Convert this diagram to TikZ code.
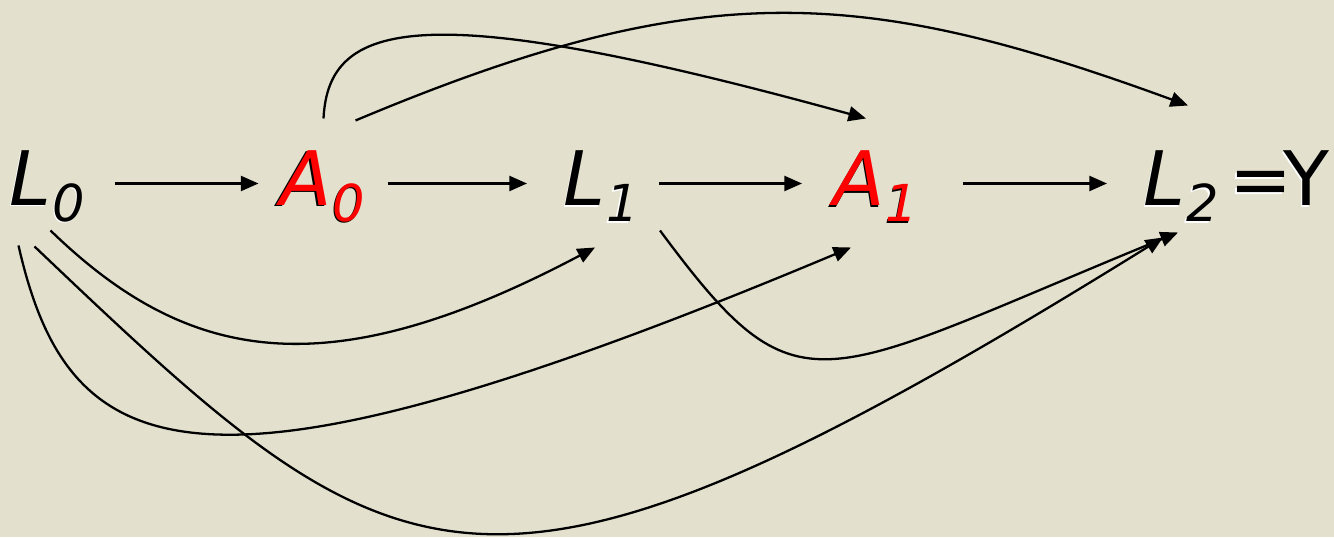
\documentclass[tikz,border=0pt]{standalone}
\usepackage{fontspec}
\setmainfont{DejaVu Sans}
\usetikzlibrary{positioning,arrows.meta,calc}
\definecolor{slidebg}{HTML}{E3E1CE}
\definecolor{treatred}{HTML}{FF0000}
\newcommand{\sublab}[2]{#1\kern0.5pt\raisebox{-9pt}{\fontsize{29}{29}\selectfont#2}}
\newcommand{\embossed}[2]{\rlap{\kern-0.8pt\raisebox{-0.8pt}{\color{#1}#2}}#2}
\tikzset{
    lab/.style={inner sep=0pt,font=\fontsize{42.8}{44}\selectfont\itshape},
    treat/.style={lab,text=treatred},
    flow/.style={draw,-{Triangle[length=10pt,width=8.5pt]},line width=1.3pt},
}

\begin{document}
\begin{tikzpicture}
    \fill[slidebg] (0,0) rectangle (26.68,10.74);
    \useasboundingbox (0,0) rectangle (26.68,10.74);
    \node[lab] (L0) at (0.95,7.0) {\embossed{white}{\sublab{L}{0}}};
    \node[treat] (A0) at (6.45,7.0) {\embossed{black}{\sublab{A}{0}}};
    \node[lab] (L1) at (12.02,7.0) {\embossed{white}{\sublab{L}{1}}};
    \node[treat] (A1) at (17.52,7.0) {\embossed{black}{\sublab{A}{1}}};
    \node[lab] (L2) at (23.62,7.0) {\embossed{white}{\sublab{L}{2}}};
    \node[lab,font=\fontsize{42.8}{44}\selectfont,base right=0.2cm of L2] (Y) {\embossed{white}{=\kern-5pt Y}};
    \draw[flow,shorten <=1.34cm,shorten >=1.28cm] ([yshift=0.07cm]L0.center) -- ([yshift=0.07cm]A0.center);
    \draw[flow,shorten <=1.3cm,shorten >=1.48cm] ([yshift=0.07cm]A0.center) -- ([yshift=0.07cm]L1.center);
    \draw[flow,shorten <=1.16cm,shorten >=1.48cm] ([yshift=0.07cm]L1.center) -- ([yshift=0.07cm]A1.center);
    \draw[flow,shorten <=1.74cm,shorten >=1.48cm] ([yshift=0.07cm]A1.center) -- ([yshift=0.07cm]L2.center);
    \draw[flow] ($(A0)+(0.02,1.37)$) .. controls +(0.1,1.96) and +(-8.92,2.46) .. ($(A1)+(-0.2,1.37)$);
    \draw[flow] ($(A0)+(0.66,1.33)$) .. controls +(6.9,2.9) and +(-6.56,2.4) .. ($(L2)+(0.14,1.63)$);
    \draw[flow] ($(L0)+(0.06,-0.87)$) .. controls +(2.78,-2.7) and +(-5.3,-2.8) .. ($(L1)+(-0.12,-1.21)$);
    \draw[flow] ($(L0)+(-0.58,-1.17)$) .. controls +(1.02,-4.5) and +(-13.02,-5.46) .. ($(A1)+(-0.5,-1.21)$);
    \draw[flow] ($(L0)+(-0.26,-1.19)$) .. controls +(7.36,-7.0) and +(-13.7,-8.5) .. ($(L2)+(-0.36,-1.01)$);
    \draw[flow] ($(L1)+(1.18,-0.87)$) .. controls +(2.8,-3.78) and +(-7.28,-2.98) .. ($(L2)+(-0.06,-0.91)$);
\end{tikzpicture}
\end{document}
